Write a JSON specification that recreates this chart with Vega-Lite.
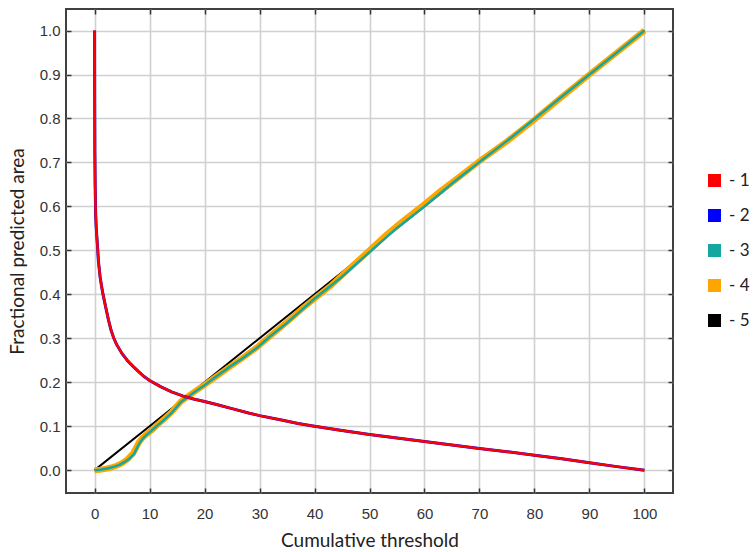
{
  "$schema": "https://vega.github.io/schema/vega-lite/v6.json",
  "width": 607,
  "height": 484,
  "autosize": {"type": "none"},
  "padding": {"left": 66, "top": 9, "right": 80, "bottom": 59},
  "background": "white",
  "config": {
    "view": {"stroke": "#404040", "strokeWidth": 2},
    "axis": {"domain": false, "labelFont": "Liberation Sans", "labelFontSize": 15, "labelColor": "#333333", "titleFont": "Lato", "titleFontSize": 19, "titleFontWeight": "normal", "titleColor": "#222222", "gridColor": "#d0d0d0", "gridWidth": 1.6, "tickColor": "#333333", "tickWidth": 1.5},
    "legend": {"labelFont": "Lato", "labelFontSize": 17, "labelColor": "#222222"}
  },
  "data": {"values": [
    {"s": "5", "x": 0, "y": 0}, {"s": "5", "x": 10, "y": 0.1}, {"s": "5", "x": 20, "y": 0.2}, {"s": "5", "x": 30, "y": 0.3}, {"s": "5", "x": 40, "y": 0.4}, {"s": "5", "x": 50, "y": 0.5}, {"s": "5", "x": 60, "y": 0.6}, {"s": "5", "x": 70, "y": 0.7}, {"s": "5", "x": 80, "y": 0.8}, {"s": "5", "x": 90, "y": 0.9}, {"s": "5", "x": 100, "y": 1.0},

    {"s": "4", "x": 0, "y": 0}, {"s": "4", "x": 1, "y": 0.001}, {"s": "4", "x": 2, "y": 0.003}, {"s": "4", "x": 3, "y": 0.006}, {"s": "4", "x": 4, "y": 0.01}, {"s": "4", "x": 5, "y": 0.016}, {"s": "4", "x": 6, "y": 0.025}, {"s": "4", "x": 7, "y": 0.038}, {"s": "4", "x": 7.6, "y": 0.052}, {"s": "4", "x": 8.1, "y": 0.064}, {"s": "4", "x": 8.7, "y": 0.073}, {"s": "4", "x": 9.5, "y": 0.082}, {"s": "4", "x": 10.5, "y": 0.092}, {"s": "4", "x": 11.5, "y": 0.104}, {"s": "4", "x": 12.7, "y": 0.117}, {"s": "4", "x": 14, "y": 0.132}, {"s": "4", "x": 15.7, "y": 0.156}, {"s": "4", "x": 17, "y": 0.168}, {"s": "4", "x": 18.5, "y": 0.181}, {"s": "4", "x": 20, "y": 0.194}, {"s": "4", "x": 22, "y": 0.212}, {"s": "4", "x": 24.7, "y": 0.236}, {"s": "4", "x": 27, "y": 0.256}, {"s": "4", "x": 29.5, "y": 0.279}, {"s": "4", "x": 32, "y": 0.306}, {"s": "4", "x": 35, "y": 0.337}, {"s": "4", "x": 38, "y": 0.37}, {"s": "4", "x": 40, "y": 0.39}, {"s": "4", "x": 43, "y": 0.42}, {"s": "4", "x": 46, "y": 0.455}, {"s": "4", "x": 50, "y": 0.5}, {"s": "4", "x": 53, "y": 0.535}, {"s": "4", "x": 56, "y": 0.566}, {"s": "4", "x": 60, "y": 0.605}, {"s": "4", "x": 63, "y": 0.636}, {"s": "4", "x": 66, "y": 0.664}, {"s": "4", "x": 70, "y": 0.703}, {"s": "4", "x": 75, "y": 0.748}, {"s": "4", "x": 80, "y": 0.797}, {"s": "4", "x": 85, "y": 0.849}, {"s": "4", "x": 90, "y": 0.9}, {"s": "4", "x": 95, "y": 0.95}, {"s": "4", "x": 100, "y": 1.0},

    {"s": "3", "x": 0, "y": 0}, {"s": "3", "x": 1, "y": 0.001}, {"s": "3", "x": 2, "y": 0.003}, {"s": "3", "x": 3, "y": 0.006}, {"s": "3", "x": 3.6, "y": 0.008}, {"s": "3", "x": 4.5, "y": 0.012}, {"s": "3", "x": 5.4, "y": 0.018}, {"s": "3", "x": 6.3, "y": 0.026}, {"s": "3", "x": 7.2, "y": 0.037}, {"s": "3", "x": 7.7, "y": 0.05}, {"s": "3", "x": 8.1, "y": 0.06}, {"s": "3", "x": 8.6, "y": 0.069}, {"s": "3", "x": 9, "y": 0.075}, {"s": "3", "x": 10, "y": 0.086}, {"s": "3", "x": 11, "y": 0.097}, {"s": "3", "x": 12.7, "y": 0.115}, {"s": "3", "x": 14, "y": 0.13}, {"s": "3", "x": 15.7, "y": 0.155}, {"s": "3", "x": 18, "y": 0.176}, {"s": "3", "x": 20, "y": 0.193}, {"s": "3", "x": 22, "y": 0.212}, {"s": "3", "x": 24.7, "y": 0.236}, {"s": "3", "x": 27, "y": 0.255}, {"s": "3", "x": 29.5, "y": 0.278}, {"s": "3", "x": 32, "y": 0.305}, {"s": "3", "x": 35, "y": 0.335}, {"s": "3", "x": 38, "y": 0.368}, {"s": "3", "x": 40, "y": 0.39}, {"s": "3", "x": 45, "y": 0.44}, {"s": "3", "x": 50, "y": 0.496}, {"s": "3", "x": 55, "y": 0.551}, {"s": "3", "x": 60, "y": 0.6}, {"s": "3", "x": 65, "y": 0.652}, {"s": "3", "x": 70, "y": 0.701}, {"s": "3", "x": 75, "y": 0.749}, {"s": "3", "x": 80, "y": 0.799}, {"s": "3", "x": 85, "y": 0.85}, {"s": "3", "x": 90, "y": 0.9}, {"s": "3", "x": 95, "y": 0.95}, {"s": "3", "x": 100, "y": 1.0},

    {"s": "2", "x": 0, "y": 1.0}, {"s": "2", "x": 0.02, "y": 0.85}, {"s": "2", "x": 0.05, "y": 0.72}, {"s": "2", "x": 0.1, "y": 0.65}, {"s": "2", "x": 0.2, "y": 0.58}, {"s": "2", "x": 0.3, "y": 0.55}, {"s": "2", "x": 0.5, "y": 0.515}, {"s": "2", "x": 0.7, "y": 0.475}, {"s": "2", "x": 1.0, "y": 0.44}, {"s": "2", "x": 1.25, "y": 0.42}, {"s": "2", "x": 1.5, "y": 0.402}, {"s": "2", "x": 2.0, "y": 0.372}, {"s": "2", "x": 2.5, "y": 0.343}, {"s": "2", "x": 3.0, "y": 0.318}, {"s": "2", "x": 3.5, "y": 0.3}, {"s": "2", "x": 4, "y": 0.286}, {"s": "2", "x": 5, "y": 0.265}, {"s": "2", "x": 6, "y": 0.249}, {"s": "2", "x": 7, "y": 0.236}, {"s": "2", "x": 8, "y": 0.224}, {"s": "2", "x": 9, "y": 0.213}, {"s": "2", "x": 10, "y": 0.204}, {"s": "2", "x": 12, "y": 0.19}, {"s": "2", "x": 14, "y": 0.178}, {"s": "2", "x": 16, "y": 0.169}, {"s": "2", "x": 18, "y": 0.162}, {"s": "2", "x": 20, "y": 0.156}, {"s": "2", "x": 22, "y": 0.15}, {"s": "2", "x": 25, "y": 0.14}, {"s": "2", "x": 28, "y": 0.13}, {"s": "2", "x": 30, "y": 0.124}, {"s": "2", "x": 34, "y": 0.114}, {"s": "2", "x": 37, "y": 0.106}, {"s": "2", "x": 40, "y": 0.1}, {"s": "2", "x": 45, "y": 0.09}, {"s": "2", "x": 50, "y": 0.081}, {"s": "2", "x": 55, "y": 0.073}, {"s": "2", "x": 60, "y": 0.065}, {"s": "2", "x": 65, "y": 0.057}, {"s": "2", "x": 70, "y": 0.049}, {"s": "2", "x": 75, "y": 0.042}, {"s": "2", "x": 80, "y": 0.034}, {"s": "2", "x": 85, "y": 0.026}, {"s": "2", "x": 90, "y": 0.017}, {"s": "2", "x": 95, "y": 0.008}, {"s": "2", "x": 100, "y": 0},

    {"s": "1", "x": 0, "y": 1.0}, {"s": "1", "x": 0.02, "y": 0.85}, {"s": "1", "x": 0.05, "y": 0.72}, {"s": "1", "x": 0.1, "y": 0.65}, {"s": "1", "x": 0.2, "y": 0.58}, {"s": "1", "x": 0.3, "y": 0.55}, {"s": "1", "x": 0.5, "y": 0.515}, {"s": "1", "x": 0.7, "y": 0.475}, {"s": "1", "x": 1.0, "y": 0.44}, {"s": "1", "x": 1.25, "y": 0.42}, {"s": "1", "x": 1.5, "y": 0.402}, {"s": "1", "x": 2.0, "y": 0.372}, {"s": "1", "x": 2.5, "y": 0.343}, {"s": "1", "x": 3.0, "y": 0.318}, {"s": "1", "x": 3.5, "y": 0.3}, {"s": "1", "x": 4, "y": 0.286}, {"s": "1", "x": 5, "y": 0.265}, {"s": "1", "x": 6, "y": 0.249}, {"s": "1", "x": 7, "y": 0.236}, {"s": "1", "x": 8, "y": 0.224}, {"s": "1", "x": 9, "y": 0.213}, {"s": "1", "x": 10, "y": 0.204}, {"s": "1", "x": 12, "y": 0.19}, {"s": "1", "x": 14, "y": 0.178}, {"s": "1", "x": 16, "y": 0.169}, {"s": "1", "x": 18, "y": 0.162}, {"s": "1", "x": 20, "y": 0.156}, {"s": "1", "x": 22, "y": 0.15}, {"s": "1", "x": 25, "y": 0.14}, {"s": "1", "x": 28, "y": 0.13}, {"s": "1", "x": 30, "y": 0.124}, {"s": "1", "x": 34, "y": 0.114}, {"s": "1", "x": 37, "y": 0.106}, {"s": "1", "x": 40, "y": 0.1}, {"s": "1", "x": 45, "y": 0.09}, {"s": "1", "x": 50, "y": 0.081}, {"s": "1", "x": 55, "y": 0.073}, {"s": "1", "x": 60, "y": 0.065}, {"s": "1", "x": 65, "y": 0.057}, {"s": "1", "x": 70, "y": 0.049}, {"s": "1", "x": 75, "y": 0.042}, {"s": "1", "x": 80, "y": 0.034}, {"s": "1", "x": 85, "y": 0.026}, {"s": "1", "x": 90, "y": 0.017}, {"s": "1", "x": 95, "y": 0.008}, {"s": "1", "x": 100, "y": 0}
  ]},
  "resolve": {"axis": {"x": "independent", "y": "independent"}},
  "layer": [
    {
      "transform": [{"filter": "datum.s === '5'"}],
      "mark": {"type": "line", "strokeWidth": 2},
      "encoding": {
        "x": {"field": "x", "type": "quantitative", "scale": {"domain": [-5.2, 105.2], "nice": false, "zero": false},
              "axis": {"title": "Cumulative threshold", "values": [0,10,20,30,40,50,60,70,80,90,100], "grid": true, "tickSize": -5, "labelPadding": 18, "titlePadding": 10}},
        "y": {"field": "y", "type": "quantitative", "scale": {"domain": [-0.052, 1.049], "nice": false, "zero": false},
              "axis": {"title": "Fractional predicted area", "values": [0,0.1,0.2,0.3,0.4,0.5,0.6,0.7,0.8,0.9,1.0], "format": ".1f", "grid": true, "tickSize": -5, "labelPadding": 11, "titlePadding": 12}},
        "color": {"field": "s", "type": "nominal",
                  "scale": {"domain": ["1","2","3","4","5"], "range": ["#ff0000","#0000ff","#14a79f","#ffa500","#000000"]},
                  "legend": {"title": null, "orient": "none", "legendX": 640, "legendY": 163, "symbolType": "square", "symbolSize": 170, "symbolStrokeWidth": 0, "rowPadding": 17, "labelOffset": 6, "labelExpr": "'- ' + datum.label",
                             "encode": {"symbols": {"update": {"fill": {"scale": "color", "field": "value"}, "fillOpacity": {"value": 1}, "strokeWidth": {"value": 0}}}}}},
        "order": {"field": "x", "type": "quantitative"}
      }
    },
    {
      "transform": [{"filter": "datum.s === '4'"}],
      "mark": {"type": "line", "strokeWidth": 6},
      "encoding": {
        "x": {"field": "x", "type": "quantitative", "axis": null},
        "y": {"field": "y", "type": "quantitative", "axis": null},
        "color": {"field": "s", "type": "nominal"},
        "order": {"field": "x", "type": "quantitative"}
      }
    },
    {
      "transform": [{"filter": "datum.s === '3'"}],
      "mark": {"type": "line", "strokeWidth": 2.5},
      "encoding": {
        "x": {"field": "x", "type": "quantitative", "axis": null},
        "y": {"field": "y", "type": "quantitative", "axis": null},
        "color": {"field": "s", "type": "nominal"},
        "order": {"field": "x", "type": "quantitative"}
      }
    },
    {
      "transform": [{"filter": "datum.s === '2'"}],
      "mark": {"type": "line", "strokeWidth": 3},
      "encoding": {
        "x": {"field": "x", "type": "quantitative", "axis": null},
        "y": {"field": "y", "type": "quantitative", "axis": null},
        "color": {"field": "s", "type": "nominal"},
        "order": {"field": "x", "type": "quantitative"}
      }
    },
    {
      "transform": [{"filter": "datum.s === '1'"}],
      "mark": {"type": "line", "strokeWidth": 2.5},
      "encoding": {
        "x": {"field": "x", "type": "quantitative", "axis": {"orient": "top", "title": null, "labels": false, "grid": false, "tickSize": -5, "values": [0,10,20,30,40,50,60,70,80,90,100]}},
        "y": {"field": "y", "type": "quantitative", "axis": {"orient": "right", "title": null, "labels": false, "grid": false, "tickSize": -5, "values": [0,0.1,0.2,0.3,0.4,0.5,0.6,0.7,0.8,0.9,1.0]}},
        "color": {"field": "s", "type": "nominal"},
        "order": {"field": "x", "type": "quantitative"}
      }
    }
  ]
}
